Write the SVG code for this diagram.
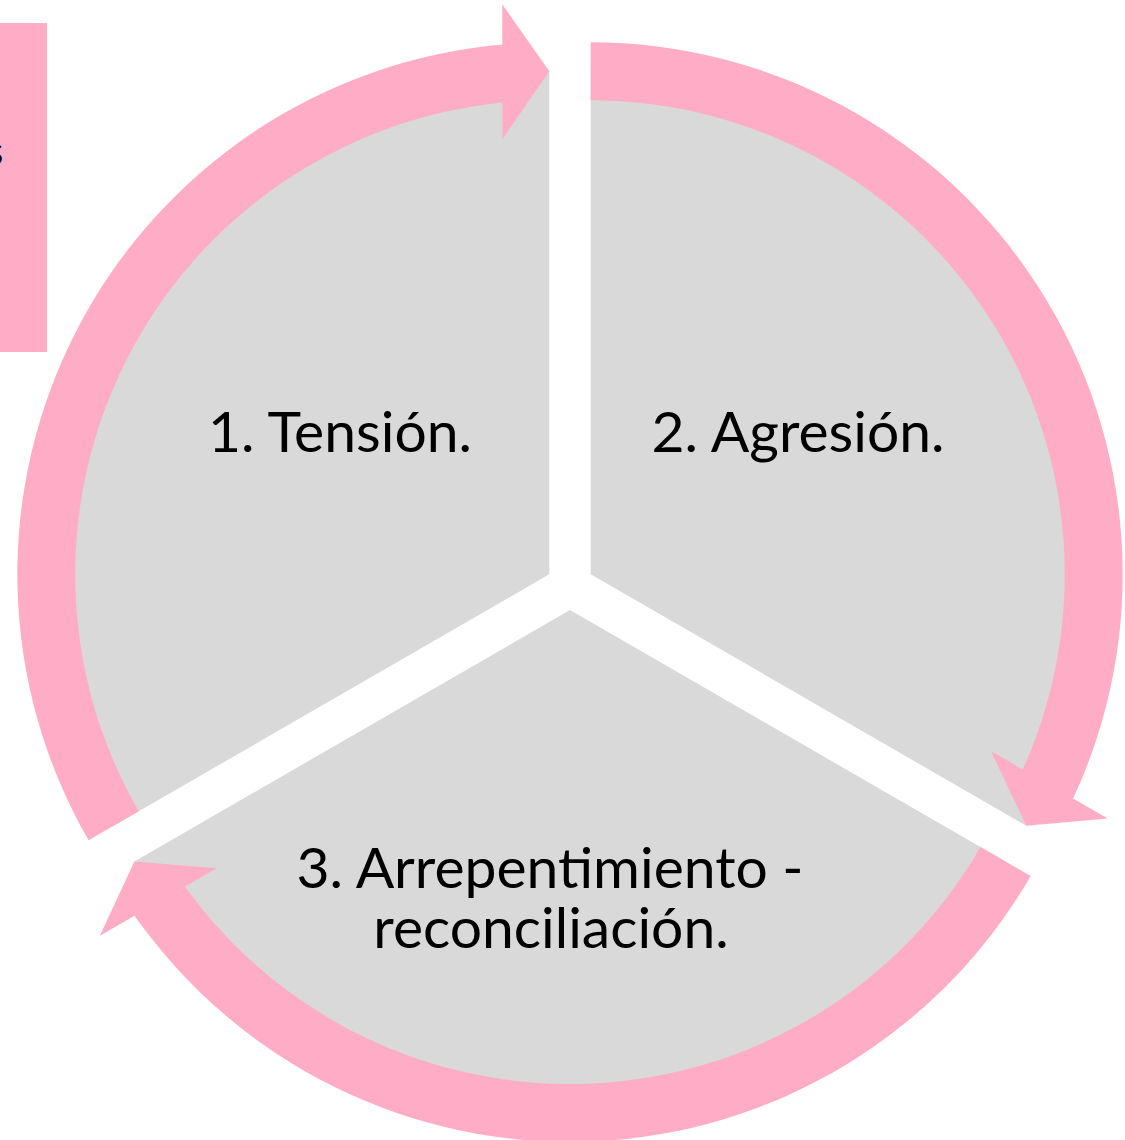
<svg xmlns="http://www.w3.org/2000/svg" width="1125" height="1140" viewBox="0 0 1125 1140">
<defs>
<style>
.seg{fill:#D9D9D9;}
.arr{fill:#FFADC6;}
.lbl{font-family:Lato,"Open Sans","Noto Sans",sans-serif;font-size:57px;fill:#000;text-anchor:middle;}
</style>
<path id="arrowShape" d="M -460.7 266 A 532 532 0 0 1 -47 -529.9 L -47 -570 L 0 -503 L -47 -435 L -47 -471.7 A 474 474 0 0 0 -410.5 237 Z"/>
</defs>
<rect x="0" y="0" width="1125" height="1140" fill="#FFFFFF"/>
<g id="side-bar">
<rect x="0" y="23" width="47" height="329" class="arr"/>
<text x="-14" y="165" style="font-family:Lato,sans-serif;font-size:40px;fill:#000">s</text>
</g>
<g id="node-1">
<path class="seg" d="M 549.3 574.3 L 112.8 826.3 A 504 504 0 0 1 549.3 70.3 Z"/>
<text class="lbl" x="340" y="452">1. Tensión.</text>
</g>
<g id="node-2">
<path class="seg" d="M 590.7 574.3 L 590.7 70.3 A 504 504 0 0 1 1027.2 826.3 Z"/>
<text class="lbl" x="798" y="452">2. Agresión.</text>
</g>
<g id="node-3">
<path class="seg" d="M 570 610 L 1006.5 862 A 504 504 0 0 1 133.5 862 Z"/>
<text class="lbl" x="550" y="888">3. Arrepentimiento -</text>
<text class="lbl" x="551" y="948">reconciliación.</text>
</g>
<g id="connectors">
<use href="#arrowShape" class="arr" transform="translate(549.3,574.3)"/>
<use href="#arrowShape" class="arr" transform="translate(590.7,574.3) rotate(120)"/>
<use href="#arrowShape" class="arr" transform="translate(570,610) rotate(240)"/>
</g>
</svg>
